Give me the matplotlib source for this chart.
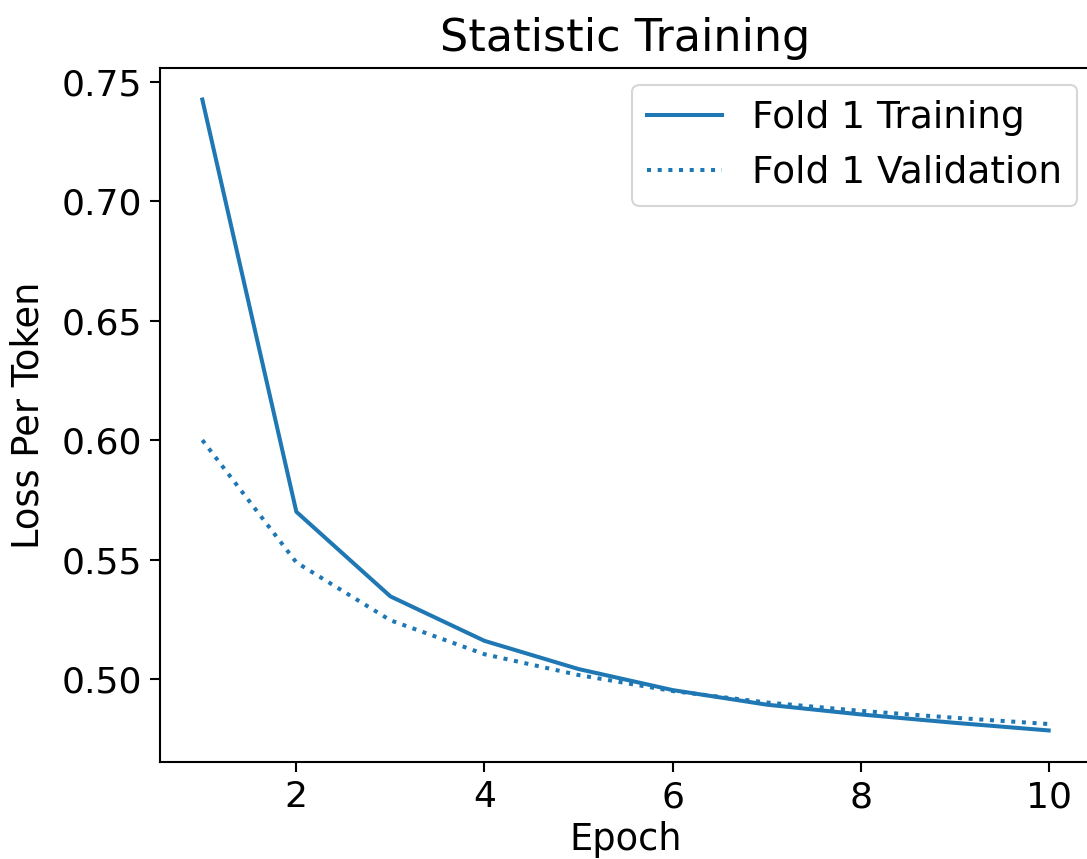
import matplotlib
matplotlib.use("Agg")
import matplotlib.pyplot as plt

epochs = [1, 2, 3, 4, 5, 6, 7, 8, 9, 10]
train_loss = [0.7425, 0.570, 0.5346, 0.5160, 0.5042, 0.4954, 0.4893, 0.4852, 0.4817, 0.4785]
val_loss = [0.600, 0.5488, 0.5246, 0.5104, 0.5017, 0.4950, 0.4902, 0.4867, 0.4838, 0.4812]

W, H = 1087, 859
fig = plt.figure(figsize=(W / 100, H / 100), dpi=100)
ax = fig.add_axes([160 / W, (H - 762) / H, 931 / W, 694 / H])

color = "#1f77b4"
ax.plot(epochs, train_loss, color=color, linestyle="-", linewidth=2.9, label="Fold 1 Training")
ax.plot(epochs, val_loss, color=color, linestyle=":", linewidth=2.9, label="Fold 1 Validation")

ax.set_title("Statistic Training", fontsize=32, pad=12)
ax.set_xlabel("Epoch", fontsize=26.5, labelpad=5)
ax.set_ylabel("Loss Per Token", fontsize=26.5, labelpad=11)
ax.set_xticks([2, 4, 6, 8, 10])
ax.set_yticks([0.50, 0.55, 0.60, 0.65, 0.70, 0.75])
ax.tick_params(labelsize=26, length=7, width=1.5, pad=6)
for s in ax.spines.values():
    s.set_linewidth(1.5)
ax.spines["right"].set_visible(False)

leg = ax.legend(loc="upper right", fontsize=27,
                bbox_to_anchor=((1077 - 160) / 931, 1 - 17 / 694),
                borderaxespad=0.0, handlelength=2.0, framealpha=0.8)
leg.get_frame().set_linewidth(1.5)

fig.savefig("out.png", dpi=100)
